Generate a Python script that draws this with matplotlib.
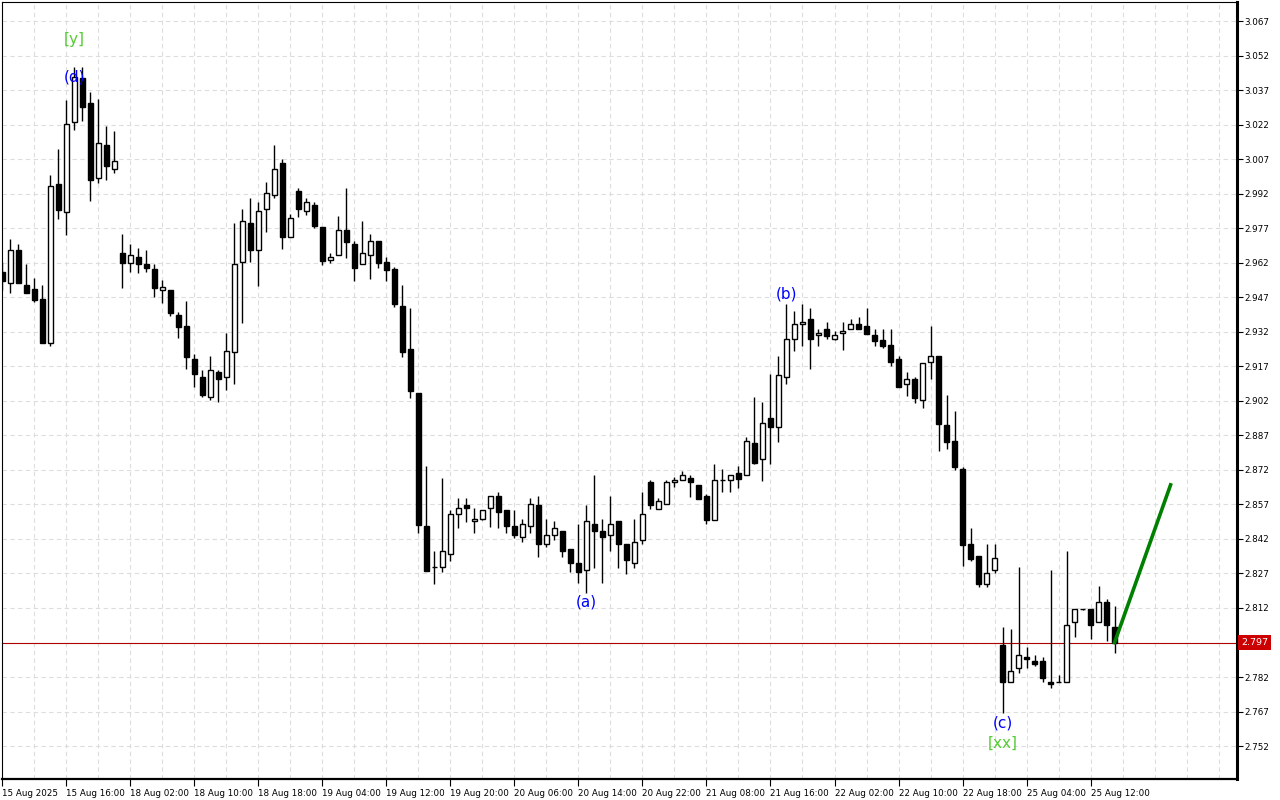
import matplotlib
matplotlib.use("Agg")
import matplotlib.pyplot as plt

# hourly candles
opens = [2.9581, 2.9530, 2.9675, 2.9522, 2.9504, 2.9461, 2.9272, 2.9962, 2.9842, 3.0230,
         3.0424, 3.0314, 2.9989, 3.0130, 3.0028, 2.9662, 2.9620, 2.9643, 2.9613, 2.9594,
         2.9503, 2.9503, 2.9393, 2.9345, 2.9204, 2.9122, 2.9035, 2.9144, 2.9122, 2.9233,
         2.9622, 2.9791, 2.9674, 2.9852, 2.9913, 3.0052, 2.9730, 2.9930, 2.9843, 2.9869,
         2.9774, 2.9632, 2.9652, 2.9762, 2.9701, 2.9613, 2.9652, 2.9714, 2.9623, 2.9593,
         2.9432, 2.9245, 2.9054, 2.8476, 2.8296, 2.8296, 2.8353, 2.8528, 2.8566, 2.8496,
         2.8505, 2.8553, 2.8605, 2.8544, 2.8475, 2.8427, 2.8475, 2.8566, 2.8396, 2.8435,
         2.8453, 2.8375, 2.8314, 2.8283, 2.8483, 2.8453, 2.8435, 2.8496, 2.8396, 2.8314,
         2.8414, 2.8666, 2.8551, 2.8574, 2.8666, 2.8676, 2.8686, 2.8654, 2.8606, 2.8503,
         2.8676, 2.8676, 2.8706, 2.8696, 2.8835, 2.8766, 2.8945, 2.8905, 2.9122, 2.9290,
         2.9354, 2.9374, 2.9304, 2.9331, 2.9290, 2.9313, 2.9331, 2.9352, 2.9344, 2.9304,
         2.9283, 2.9261, 2.9204, 2.9092, 2.9113, 2.9022, 2.9191, 2.9215, 2.8913, 2.8844,
         2.8722, 2.8396, 2.8344, 2.8225, 2.8283, 2.7958, 2.7797, 2.7858, 2.7905, 2.7888,
         2.7888, 2.7797, 2.7797, 2.7797, 2.8057, 2.8114, 2.8114, 2.8057, 2.8144, 2.8036]
highs = [2.9623, 2.9723, 2.9701, 2.9614, 2.9553, 2.9522, 3.0001, 3.0114, 3.0327, 3.0472,
         3.0472, 3.0362, 3.0332, 3.0214, 3.0192, 2.9745, 2.9701, 2.9684, 2.9675, 2.9613,
         2.9545, 2.9503, 2.9406, 2.9454, 2.9222, 2.9154, 2.9215, 2.9154, 2.9313, 2.9792,
         2.9852, 2.9900, 2.9884, 2.9969, 3.0130, 3.0069, 2.9832, 2.9944, 2.9900, 2.9884,
         2.9774, 2.9661, 2.9823, 2.9943, 2.9714, 2.9801, 2.9743, 2.9714, 2.9645, 2.9603,
         2.9523, 2.9422, 2.9054, 2.8737, 2.8367, 2.8683, 2.8545, 2.8596, 2.8596, 2.8553,
         2.8546, 2.8605, 2.8622, 2.8544, 2.8544, 2.8505, 2.8596, 2.8605, 2.8505, 2.8496,
         2.8453, 2.8375, 2.8483, 2.8566, 2.8697, 2.8505, 2.8605, 2.8496, 2.8396, 2.8505,
         2.8622, 2.8676, 2.8596, 2.8676, 2.8690, 2.8715, 2.8696, 2.8656, 2.8614, 2.8745,
         2.8724, 2.8696, 2.8737, 2.8864, 2.9038, 2.9015, 2.9135, 2.9215, 2.9443, 2.9411,
         2.9443, 2.9422, 2.9332, 2.9361, 2.9322, 2.9361, 2.9374, 2.9383, 2.9422, 2.9331,
         2.9331, 2.9331, 2.9215, 2.9144, 2.9122, 2.9183, 2.9345, 2.9215, 2.9044, 2.8976,
         2.8733, 2.8467, 2.8344, 2.8396, 2.8396, 2.8036, 2.8027, 2.8296, 2.7949, 2.7914,
         2.7905, 2.8283, 2.7827, 2.8366, 2.8114, 2.8116, 2.8114, 2.8214, 2.8157, 2.8127]
lows = [2.9501, 2.9490, 2.9530, 2.9490, 2.9450, 2.9272, 2.9259, 2.9810, 2.9740, 3.0196,
        3.0237, 2.9889, 2.9965, 2.9979, 3.0011, 2.9511, 2.9581, 2.9574, 2.9581, 2.9472,
        2.9444, 2.9390, 2.9291, 2.9159, 2.9081, 2.9038, 2.9023, 2.9015, 2.9067, 2.9092,
        2.9359, 2.9622, 2.9520, 2.9752, 2.9900, 2.9681, 2.9730, 2.9820, 2.9828, 2.9771,
        2.9611, 2.9620, 2.9652, 2.9642, 2.9542, 2.9613, 2.9550, 2.9598, 2.9542, 2.9429,
        2.9211, 2.9033, 2.8444, 2.8282, 2.8225, 2.8275, 2.8325, 2.8466, 2.8493, 2.8444,
        2.8503, 2.8473, 2.8466, 2.8444, 2.8422, 2.8405, 2.8444, 2.8342, 2.8383, 2.8414,
        2.8342, 2.8275, 2.8227, 2.8183, 2.8295, 2.8227, 2.8366, 2.8295, 2.8266, 2.8295,
        2.8396, 2.8551, 2.8551, 2.8574, 2.8644, 2.8676, 2.8603, 2.8592, 2.8483, 2.8503,
        2.8622, 2.8622, 2.8642, 2.8696, 2.8745, 2.8673, 2.8745, 2.8842, 2.9092, 2.9235,
        2.9260, 2.9159, 2.9260, 2.9288, 2.9283, 2.9241, 2.9331, 2.9331, 2.9311, 2.9260,
        2.9251, 2.9171, 2.9081, 2.9041, 2.9012, 2.8990, 2.9113, 2.8803, 2.8812, 2.8719,
        2.8302, 2.8325, 2.8212, 2.8212, 2.8273, 2.7662, 2.7797, 2.7836, 2.7858, 2.7866,
        2.7797, 2.7773, 2.7797, 2.7797, 2.7995, 2.8112, 2.7986, 2.8057, 2.7975, 2.7925]
closes = [2.9542, 2.9675, 2.9530, 2.9490, 2.9458, 2.9272, 2.9953, 2.9849, 3.0221, 3.0428,
          3.0298, 2.9979, 3.0140, 3.0041, 3.0060, 2.9620, 2.9652, 2.9613, 2.9598, 2.9511,
          2.9513, 2.9403, 2.9342, 2.9211, 2.9135, 2.9044, 2.9152, 2.9113, 2.9236, 2.9613,
          2.9800, 2.9674, 2.9843, 2.9921, 3.0028, 2.9730, 2.9813, 2.9852, 2.9882, 2.9779,
          2.9629, 2.9643, 2.9762, 2.9711, 2.9598, 2.9661, 2.9714, 2.9620, 2.9590, 2.9442,
          2.9233, 2.9064, 2.8482, 2.8282, 2.8296, 2.8366, 2.8528, 2.8553, 2.8553, 2.8505,
          2.8544, 2.8605, 2.8535, 2.8475, 2.8435, 2.8483, 2.8574, 2.8396, 2.8435, 2.8466,
          2.8366, 2.8314, 2.8275, 2.8496, 2.8453, 2.8427, 2.8483, 2.8396, 2.8327, 2.8405,
          2.8527, 2.8566, 2.8585, 2.8666, 2.8676, 2.8696, 2.8666, 2.8594, 2.8503, 2.8676,
          2.8676, 2.8696, 2.8681, 2.8844, 2.8751, 2.8922, 2.8905, 2.9133, 2.9290, 2.9354,
          2.9361, 2.9290, 2.9314, 2.9303, 2.9304, 2.9322, 2.9352, 2.9331, 2.9311, 2.9281,
          2.9260, 2.9190, 2.9081, 2.9113, 2.9033, 2.9183, 2.9215, 2.8920, 2.8842, 2.8734,
          2.8395, 2.8334, 2.8225, 2.8273, 2.8336, 2.7797, 2.7845, 2.7914, 2.7897, 2.7875,
          2.7814, 2.7788, 2.7797, 2.8044, 2.8114, 2.8114, 2.8044, 2.8144, 2.8044, 2.7970]

time_labels = ["15 Aug 2025", "15 Aug 16:00", "18 Aug 02:00", "18 Aug 10:00", "18 Aug 18:00",
               "19 Aug 04:00", "19 Aug 12:00", "19 Aug 20:00", "20 Aug 06:00", "20 Aug 14:00",
               "20 Aug 22:00", "21 Aug 08:00", "21 Aug 16:00", "22 Aug 02:00", "22 Aug 10:00",
               "22 Aug 18:00", "25 Aug 04:00", "25 Aug 12:00"]
price_ticks = [2.752, 2.767, 2.782, 2.797, 2.812, 2.827, 2.842, 2.857, 2.872, 2.887, 2.902,
               2.917, 2.932, 2.947, 2.962, 2.977, 2.992, 3.007, 3.022, 3.037, 3.052, 3.067]
current_price = 2.797

# wave marks: text, bar index, price level
wave_blue = [("(d)", 9, 3.0427), ("(b)", 98, 2.9484), ("(a)", 73, 2.8146), ("(c)", 125, 2.7620)]
wave_green = [("[y]", 9, 3.0588), ("[xx]", 125, 2.7533)]

# projected move
proj_x = [139, 146]
proj_y = [2.797, 2.8655]

fig = plt.figure(figsize=(12.8, 8), dpi=100)
ax = fig.add_axes([1.5 / 1280, 21 / 800, 1235.5 / 1280, 777 / 800])

n = len(opens)
xs = list(range(n))

ax.vlines(xs, lows, highs, color="black", linewidth=1, zorder=2)
for i in xs:
    o, c = opens[i], closes[i]
    up = c >= o
    ax.bar(i, abs(c - o), bottom=min(o, c), width=0.62,
           facecolor="white" if up else "black", edgecolor="black",
           linewidth=1, zorder=3)

ax.axhline(current_price, color="#b00000", linewidth=0.8, zorder=1)
ax.plot(proj_x, proj_y, color="#008000", linewidth=2.6, zorder=4)

for txt, i, p in wave_blue:
    ax.text(i, p, txt, color="#0000ff", fontsize=11, ha="center", va="center", zorder=5)
for txt, i, p in wave_green:
    ax.text(i, p, txt, color="#55cc33", fontsize=11, ha="center", va="center", zorder=5)

ax.set_xlim(-0.1, 154.3)
ax.set_ylim(2.7377, 3.0753)

# grid
for gx in range(4, 155, 4):
    ax.axvline(gx, color="#dddddd", linewidth=0.8, linestyle=(0, (4, 3)), zorder=0)
for gy in price_ticks:
    ax.axhline(gy, color="#dddddd", linewidth=0.8, linestyle=(0, (4, 3)), zorder=0)

ax.yaxis.tick_right()
ax.set_yticks(price_ticks)
# the current price box covers its own tick label
ax.set_yticklabels(["" if p == current_price else f"{p:.3f}" for p in price_ticks])
ax.set_xticks(list(range(0, 8 * len(time_labels), 8)))
ax.set_xticklabels(time_labels, ha="left")
ax.tick_params(axis="y", length=4, width=0.8, pad=1, labelsize=6.3)
ax.tick_params(axis="x", length=5, width=0.8, pad=2, labelsize=6.3)

for s in ["left", "top"]:
    ax.spines[s].set_linewidth(0.8)
ax.spines["right"].set_linewidth(2.2)
ax.spines["bottom"].set_linewidth(1.6)

ax.annotate(f"{current_price:.3f}", xy=(1.0, current_price),
            xycoords=("axes fraction", "data"), xytext=(3, 0),
            textcoords="offset points", ha="left", va="center", fontsize=6.8,
            color="white",
            bbox=dict(boxstyle="square,pad=0.3", facecolor="#cc0000", edgecolor="none"))

fig.savefig("out.png", dpi=100)
